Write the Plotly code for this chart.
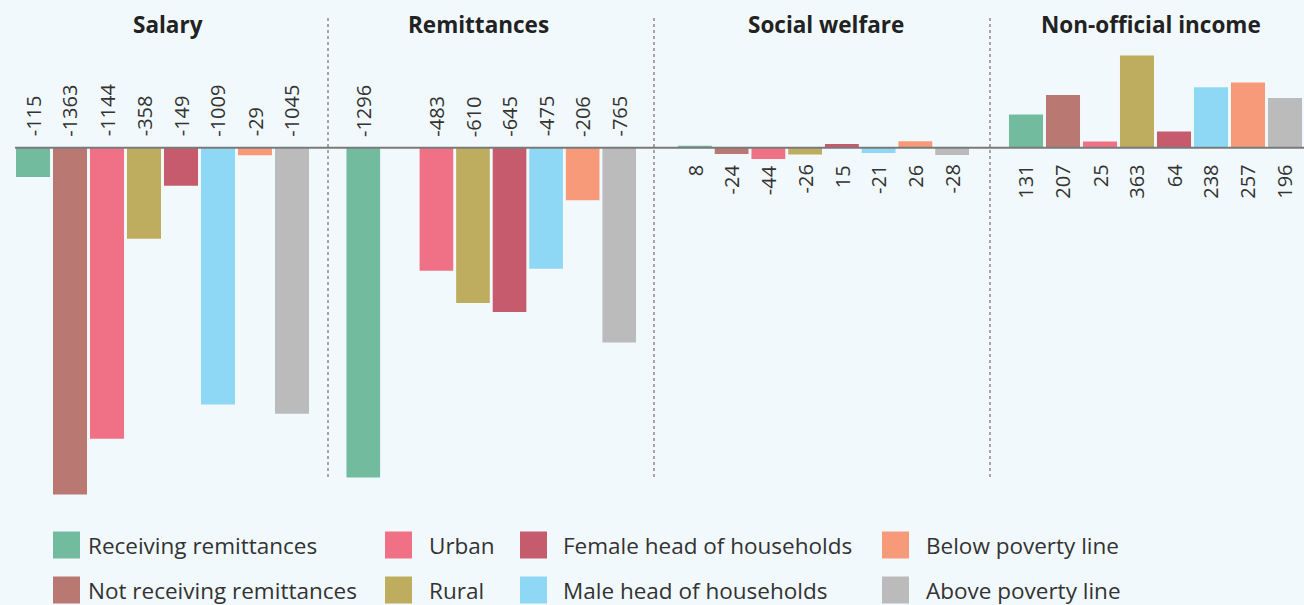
import plotly.graph_objects as go

# ---- data ----
groups = ["Receiving remittances", "Not receiving remittances", "Urban", "Rural",
          "Female head of households", "Male head of households",
          "Below poverty line", "Above poverty line"]
colors = ["#72bb9e", "#b97872", "#f07085", "#bead5f", "#c65b6d", "#8ed8f5", "#f79a7a", "#bbbbbb"]

panel_titles = ["Salary", "Remittances", "Social welfare", "Non-official income"]
salary = [-115, -1363, -1144, -358, -149, -1009, -29, -1045]
remittances = [-1296, None, -483, -610, -645, -475, -206, -765]
social_welfare = [8, -24, -44, -26, 15, -21, 26, -28]
non_official = [131, 207, 25, 363, 64, 238, 257, 196]
panel_values = [salary, remittances, social_welfare, non_official]
label_above = [True, True, False, False]

# ---- layout helpers (pixel -> paper) ----
W, H = 1304, 605
T, B = 46, 101
PH = H - T - B
BG = "#f2f9fc"
def xp(px):
    return px / W
def yp(py):
    return (H - B - py) / PH

domains = [(14.5, 310.5), (345, 637.5), (676.5, 970.5), (1007.5, 1303.5)]
title_x = [167.5, 478, 825.5, 1150.5]

fig = go.Figure()
annotations = []
for i, (vals, title) in enumerate(zip(panel_values, panel_titles)):
    ax = "" if i == 0 else str(i + 1)
    fig.add_trace(go.Bar(
        x=groups, y=vals, marker=dict(color=colors, line=dict(width=0)),
        xaxis="x" + ax, yaxis="y", showlegend=False, hoverinfo="x+y",
    ))
    for g, v in zip(groups, vals):
        if v is None:
            continue
        annotations.append(dict(
            x=g, y=0, xref="x" + ax, yref="y", text=str(v), showarrow=False,
            textangle=-90, font=dict(family="Open Sans", size=20, color="#333333"),
            yanchor="bottom" if label_above[i] else "top",
            yshift=9 if label_above[i] else -15,
        ))
    annotations.append(dict(
        x=xp(title_x[i]), y=yp(25), xref="paper", yref="paper", text="<b>" + title + "</b>",
        showarrow=False, xanchor="center", yanchor="middle",
        font=dict(family="Open Sans", size=22.5, color="#222222"),
    ))

layout_axes = {}
for i, d in enumerate(domains):
    key = "xaxis" if i == 0 else "xaxis%d" % (i + 1)
    layout_axes[key] = dict(domain=[xp(d[0]), xp(d[1])], showticklabels=False, showgrid=False,
                            zeroline=False, showline=False, ticks="", anchor="y",
                            categoryorder="array", categoryarray=groups, fixedrange=True)

shapes = []
# zero line
shapes.append(dict(type="line", xref="paper", yref="y", x0=xp(15), x1=1, y0=0, y1=0,
                   line=dict(color="#7a7a7a", width=2)))
# separators
for sx in [328, 654, 990]:
    shapes.append(dict(type="line", xref="paper", yref="paper", x0=xp(sx), x1=xp(sx),
                       y0=yp(477), y1=yp(15), line=dict(color="#555555", width=1, dash="dot")))

# manual legend
leg_order = [0, 2, 4, 6, 1, 3, 5, 7]
col_sw = [53, 385, 520, 882]
col_tx = [86, 427, 561, 924]
row_y = [545, 590]
sw = 27
for k, gi in enumerate(leg_order):
    r, c = k // 4, k % 4
    cy = row_y[r]
    shapes.append(dict(type="rect", xref="paper", yref="paper",
                       x0=xp(col_sw[c]), x1=xp(col_sw[c] + sw),
                       y0=yp(cy + sw / 2), y1=yp(cy - sw / 2),
                       fillcolor=colors[gi], line=dict(width=0)))
    annotations.append(dict(x=xp(col_tx[c]), y=yp(cy), xref="paper", yref="paper",
                            text=groups[gi], showarrow=False, xanchor="left", yanchor="middle",
                            font=dict(family="Open Sans", size=22.5, color="#333333")))

fig.update_layout(
    width=W, height=H,
    margin=dict(l=0, r=0, t=T, b=B),
    paper_bgcolor=BG, plot_bgcolor=BG,
    bargap=0.08,
    yaxis=dict(range=[-1400, 400], showticklabels=False, showgrid=False, zeroline=False,
               showline=False, ticks="", fixedrange=True),
    annotations=annotations, shapes=shapes, showlegend=False,
    **layout_axes,
)
fig.write_html("out.html", config={"displayModeBar": False},
               post_script="document.body.style.margin='0';document.body.style.background='%s';" % BG)
